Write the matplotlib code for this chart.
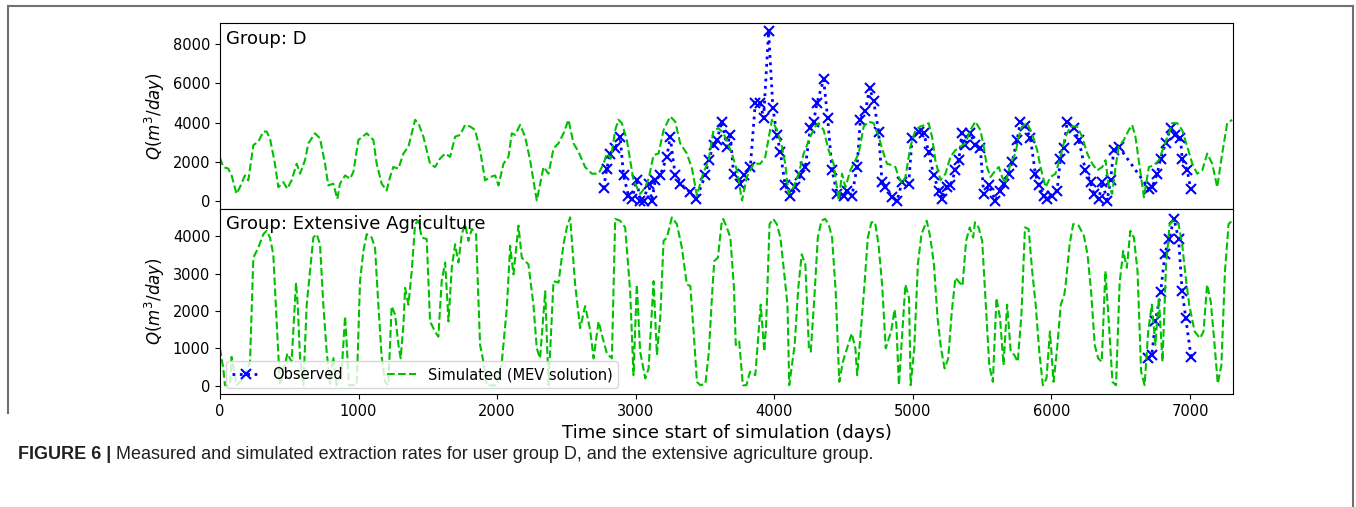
import matplotlib
matplotlib.use("Agg")
from matplotlib import pyplot as plt
from matplotlib.lines import Line2D

# Group D - simulated (MEV solution)
d_sim_days = [0, 24, 60, 84, 120, 144, 180, 205, 241, 277, 313, 337, 361, 397, 421, 457, 486, 517, 554, 578,
              614, 638, 686, 722, 758, 782, 818, 847, 866, 903, 939, 963, 999, 1059, 1107, 1131, 1167, 1203, 1227,
              1251, 1288, 1324, 1360, 1408, 1432, 1468, 1516, 1552, 1588, 1625, 1661, 1697, 1733, 1769, 1805, 1841,
              1877, 1913, 1949, 1986, 2010, 2046, 2082, 2106, 2130, 2166, 2202, 2238, 2286, 2335, 2371, 2407, 2443,
              2479, 2515, 2551, 2587, 2635, 2684, 2732, 2768, 2792, 2821, 2852, 2876, 2900, 2936, 2960, 2984, 3032,
              3069, 3093, 3129, 3165, 3201, 3249, 3285, 3321, 3369, 3406, 3442, 3478, 3526, 3562, 3598, 3634, 3694,
              3730, 3767, 3802, 3851, 3899, 3935, 3983, 4019, 4055, 4079, 4103, 4139, 4176, 4212, 4260, 4296, 4320,
              4356, 4392, 4428, 4465, 4489, 4513, 4549, 4573, 4609, 4645, 4681, 4717, 4753, 4789, 4813, 4850, 4874,
              4898, 4922, 4946, 4982, 5018, 5054, 5090, 5114, 5138, 5162, 5199, 5235, 5271, 5307, 5343, 5379, 5415,
              5451, 5487, 5511, 5535, 5560, 5596, 5620, 5644, 5668, 5704, 5740, 5764, 5788, 5824, 5860, 5897, 5921,
              5957, 5993, 6029, 6065, 6101, 6137, 6185, 6221, 6258, 6294, 6330, 6366, 6390, 6414, 6438, 6462, 6486,
              6522, 6558, 6582, 6606, 6630, 6667, 6703, 6739, 6775, 6811, 6847, 6871, 6907, 6943, 6980, 7016, 7052,
              7088, 7124, 7160, 7196, 7232, 7268, 7304]
d_sim_q = [2200, 1730, 1650, 1300, 360, 700, 1300, 1050, 2850, 3020, 3540, 3540, 3190, 1900, 700, 960, 620, 1050,
           1900, 1390, 2080, 2940, 3450, 3190, 1900, 790, 880, 100, 880, 1300, 1130, 1480, 3110, 3450, 3110, 1900,
           880, 530, 1220, 1730, 1650, 2420, 2770, 4140, 3970, 3280, 1900, 1730, 2160, 2420, 2250, 3280, 3370, 3880,
           3800, 3620, 2590, 1050, 1220, 1300, 790, 1900, 2250, 3450, 3370, 3880, 3280, 2080, 20, 1730, 1390, 2680,
           2940, 3450, 4140, 2940, 2510, 1730, 1390, 1390, 1900, 2420, 2160, 3620, 4140, 3970, 3110, 2080, 1050, 360,
           700, 1130, 2340, 2420, 3620, 4310, 4050, 2940, 2420, 1650, 270, 1220, 2080, 3620, 3710, 3450, 2420, 1560,
           20, 1220, 1900, 1900, 2250, 4140, 3620, 2770, 1900, 360, 700, 1390, 2420, 3280, 3800, 3970, 3620, 2590,
           1900, 20, 1390, 700, 1560, 1900, 2420, 3800, 4050, 3970, 3280, 2420, 1900, 1820, 1730, 1220, 880, 1220,
           2770, 3620, 3800, 3880, 3970, 3280, 2080, 1050, 1390, 2250, 2590, 2770, 2940, 3620, 4050, 3620, 2770,
           1730, 1220, 1560, 1730, 1220, 880, 1900, 2420, 3280, 3800, 3970, 3450, 2590, 1730, 700, 1220, 1390, 2250,
           3280, 3800, 3800, 3280, 2420, 1900, 1560, 1730, 2080, 700, 360, 1730, 2770, 3110, 3620, 3880, 3280, 2080,
           190, 1730, 1820, 2080, 2770, 3450, 3970, 3970, 3620, 2770, 1900, 1390, 1560, 2420, 1900, 700, 2420, 3970,
           4140]

# Group D - observed
d_obs_days = [2768, 2792, 2816, 2852, 2888, 2912, 2948, 2972, 3008, 3032, 3057, 3093, 3117, 3141, 3177, 3225, 3249,
              3285, 3321, 3394, 3437, 3502, 3526, 3562, 3586, 3622, 3658, 3682, 3706, 3749, 3778, 3827, 3863, 3899,
              3923, 3959, 3990, 4019, 4043, 4079, 4115, 4152, 4188, 4224, 4260, 4284, 4308, 4356, 4385, 4417, 4453,
              4501, 4525, 4561, 4597, 4621, 4657, 4688, 4717, 4753, 4777, 4802, 4850, 4886, 4922, 4970, 4994, 5042,
              5078, 5114, 5150, 5187, 5211, 5247, 5271, 5307, 5331, 5355, 5379, 5415, 5451, 5487, 5511, 5548, 5596,
              5632, 5656, 5692, 5716, 5752, 5776, 5812, 5848, 5884, 5908, 5944, 5968, 6005, 6041, 6065, 6089, 6113,
              6161, 6197, 6245, 6282, 6306, 6342, 6366, 6402, 6426, 6450, 6486, 6703, 6727, 6763, 6787, 6823, 6859,
              6895, 6931, 6943, 6980, 7004]
d_obs_q = [650, 1650, 2420, 2680, 3280, 1300, 270, 100, 1050, 20, 20, 880, 20, 1050, 1300, 2250, 3280, 1300, 880,
           440, 100, 1300, 2080, 2850, 3110, 4050, 2770, 3370, 1390, 880, 1300, 1730, 5000, 5000, 4230, 8650, 4740,
           3370, 2510, 790, 270, 700, 1300, 1730, 3710, 4050, 5000, 6200, 4230, 1560, 360, 270, 530, 270, 1730, 4140,
           4570, 5770, 5080, 3540, 960, 700, 190, 20, 960, 880, 3200, 3540, 3450, 2510, 1300, 530, 100, 700, 790,
           1560, 2080, 3450, 2850, 3450, 2850, 2680, 360, 790, 20, 530, 880, 1390, 1990, 3110, 4050, 3800, 3200,
           1390, 790, 270, 100, 270, 530, 2160, 2680, 4050, 3710, 3110, 1560, 960, 360, 100, 960, 20, 1050, 2590,
           2770, 620, 700, 1390, 2160, 2940, 3710, 3370, 3200, 2160, 1560, 620]

# Extensive agriculture - simulated (MEV solution)
e_sim_days = [0, 24, 36, 72, 84, 120, 168, 217, 241, 277, 313, 337, 361, 385, 409, 433, 469, 486, 517, 549, 561,
              578, 602, 626, 650, 674, 698, 722, 746, 770, 794, 818, 842, 878, 903, 915, 931, 987, 1011, 1035, 1059,
              1095, 1119, 1143, 1167, 1191, 1215, 1239, 1264, 1288, 1304, 1324, 1336, 1360, 1384, 1408, 1432, 1456,
              1492, 1516, 1552, 1576, 1600, 1625, 1649, 1673, 1697, 1721, 1745, 1769, 1793, 1817, 1848, 1877, 1901,
              1925, 1998, 2034, 2070, 2094, 2118, 2154, 2178, 2226, 2262, 2286, 2310, 2347, 2371, 2407, 2443, 2479,
              2503, 2527, 2563, 2599, 2635, 2671, 2696, 2732, 2756, 2792, 2828, 2852, 2888, 2924, 2960, 2984, 3008,
              3032, 3069, 3093, 3129, 3153, 3177, 3201, 3225, 3261, 3297, 3333, 3369, 3394, 3418, 3442, 3466, 3503,
              3528, 3554, 3567, 3593, 3619, 3631, 3657, 3683, 3709, 3722, 3747, 3773, 3799, 3825, 3863, 3902, 3928,
              3941, 3966, 3992, 4018, 4044, 4070, 4095, 4108, 4147, 4173, 4198, 4224, 4250, 4263, 4289, 4314, 4340,
              4366, 4392, 4417, 4443, 4469, 4495, 4533, 4559, 4585, 4598, 4624, 4649, 4675, 4701, 4727, 4752, 4778,
              4804, 4843, 4868, 4881, 4899, 4946, 4972, 4984, 5010, 5036, 5062, 5100, 5126, 5152, 5178, 5203, 5229,
              5255, 5281, 5307, 5358, 5384, 5410, 5435, 5448, 5474, 5500, 5526, 5551, 5577, 5603, 5629, 5654, 5680,
              5706, 5732, 5757, 5783, 5809, 5835, 5861, 5886, 5912, 5938, 5964, 5989, 6015, 6041, 6067, 6093, 6105,
              6131, 6157, 6196, 6234, 6260, 6286, 6312, 6337, 6363, 6389, 6415, 6440, 6466, 6492, 6518, 6544, 6569,
              6595, 6621, 6647, 6672, 6698, 6724, 6750, 6775, 6801, 6827, 6853, 6878, 6917, 6943, 6969, 6994, 7033,
              7072, 7097, 7123, 7149, 7175, 7200, 7226, 7252, 7278, 7303]
e_sim_q = [1000, 460, 10, 10, 770, 10, 190, 640, 3430, 3700, 4060, 4150, 3970, 3520, 1720, 10, 550, 860, 640, 2760,
           2170, 730, 10, 2170, 3070, 3970, 4060, 3790, 2170, 910, 50, 770, 10, 370, 1860, 1090, 10, 10, 2800, 3610,
           4060, 3970, 3700, 2170, 770, 100, 10, 2130, 1900, 1090, 730, 1630, 2620, 2170, 3070, 4330, 4420, 3970,
           3930, 1720, 1450, 1310, 2800, 3300, 1720, 3160, 3790, 3300, 4060, 4330, 3880, 4200, 4060, 1090, 640, 10,
           0, 640, 2080, 3750, 2980, 4290, 3430, 3250, 2170, 1000, 730, 2530, 10, 2800, 2760, 3790, 4240, 4510, 2710,
           1540, 2130, 1500, 730, 1720, 1360, 860, 730, 4470, 4420, 4240, 2530, 280, 2710, 910, 190, 460, 2800, 820,
           1810, 3880, 3970, 4510, 4330, 3700, 2710, 2670, 1450, 100, 10, 50, 910, 2620, 3340, 3430, 4330, 4470,
           4240, 3970, 2620, 1090, 1180, 10, 10, 370, 280, 2170, 910, 1630, 4330, 4470, 4330, 3970, 3070, 2170, 10,
           1090, 2620, 3520, 3250, 1000, 910, 2350, 3970, 4420, 4470, 4330, 3970, 2530, 100, 640, 1090, 1400, 1000,
           280, 1450, 2620, 3970, 4380, 4380, 3790, 2710, 1000, 1450, 2040, 1630, 10, 2710, 2350, 10, 1000, 3250,
           4060, 4420, 3970, 3250, 1810, 1000, 460, 730, 1990, 2890, 2670, 3880, 4240, 3970, 4380, 4240, 3880, 2170,
           550, 100, 2350, 1810, 550, 2170, 910, 820, 640, 1900, 4240, 4200, 3070, 2170, 910, 10, 190, 1450, 100,
           1000, 2170, 2440, 2800, 3790, 4330, 4290, 4020, 3520, 2530, 1090, 730, 640, 3070, 1630, 100, 10, 2760,
           3610, 3160, 4150, 3970, 3070, 370, 10, 1450, 2170, 1090, 2350, 640, 3250, 4330, 4420, 4330, 3790, 2890,
           2170, 1450, 1270, 1450, 2710, 2260, 1180, 50, 550, 3070, 4330, 4420]

# Extensive agriculture - observed
e_obs_days = [6698, 6724, 6750, 6788, 6819, 6848, 6884, 6917, 6943, 6969, 7007]
e_obs_q = [730, 820, 1720, 2510, 3540, 3930, 4470, 3940, 2530, 1810, 770]

xticks = [0, 1000, 2000, 3000, 4000, 5000, 6000, 7000]
sim_green = "#00c000"

fig = plt.figure(figsize=(13.56, 5.07), dpi=100)
ax1 = fig.add_axes([0.1622, 0.5878, 0.7471, 0.3668])
ax2 = fig.add_axes([0.1622, 0.2229, 0.7471, 0.3649], sharex=ax1)

ax1.plot(d_obs_days, d_obs_q, ":", color="b", marker="x", ms=7, mew=1.5, lw=2, label="Observed")
ax1.plot(d_sim_days, d_sim_q, "--", color=sim_green, lw=1.5, label="Simulated (MEV solution)")
ax2.plot(e_obs_days, e_obs_q, ":", color="b", marker="x", ms=7, mew=1.5, lw=2, label="Observed")
ax2.plot(e_sim_days, e_sim_q, "--", color=sim_green, lw=1.5, label="Simulated (MEV solution)")

ax1.set_xlim(0, 7310)
ax1.set_xticks(xticks)
ax1.tick_params(labelbottom=False, labelsize=10.5)
ax2.tick_params(labelsize=10.5)
ax1.set_yticks([0, 2000, 4000, 6000, 8000])
ax2.set_yticks([0, 1000, 2000, 3000, 4000])

ax1.set_ylabel("$Q(m^3/day)$", fontsize=12)
ax2.set_ylabel("$Q(m^3/day)$", fontsize=12)
ax2.set_xlabel("Time since start of simulation (days)", fontsize=13)

ax1.text(0.006, 0.965, "Group: D", transform=ax1.transAxes, va="top", fontsize=13)
ax2.text(0.006, 0.965, "Group: Extensive Agriculture", transform=ax2.transAxes, va="top", fontsize=13)
ax2.legend(loc="lower left", ncol=2, fontsize=10.5, borderaxespad=0.4, columnspacing=3)

# journal frame and caption
fig.add_artist(Line2D([0.0059, 0.9978], [0.9882, 0.9882], color="#707070", lw=1.5))
fig.add_artist(Line2D([0.0059, 0.0059], [0.9882, 0.185], color="#707070", lw=1.5))
fig.add_artist(Line2D([0.9978, 0.9978], [0.9882, 0.0], color="#707070", lw=1.5))
cap1 = fig.text(0.0133, 0.103, "FIGURE 6 |", fontsize=13, fontweight="bold", family="Liberation Sans",
                va="center", color="#231f20")
renderer = fig.canvas.get_renderer()
bb = cap1.get_window_extent(renderer)
fig.text((bb.x1 + 5) / fig.bbox.width, 0.103,
         "Measured and simulated extraction rates for user group D, and the extensive agriculture group.",
         fontsize=13, family="Liberation Sans", va="center", color="#231f20")

fig.savefig("out.png", dpi=100)
